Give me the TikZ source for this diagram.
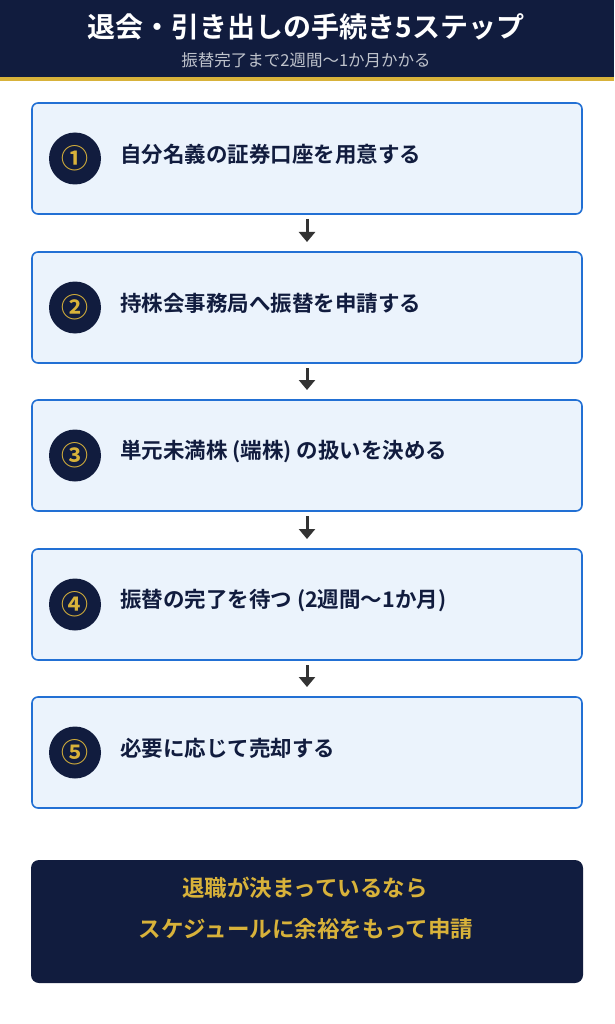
\documentclass[tikz,border=0pt]{standalone}
\usepackage{fontspec}
\setmainfont{Noto Sans CJK JP}
\newfontfamily\jpb{Noto Sans CJK JP Bold}
\usetikzlibrary{arrows.meta,calc}
\definecolor{navy}{HTML}{111C3E}
\definecolor{gold}{HTML}{D8B23A}
\definecolor{edgeblue}{HTML}{2270D4}
\definecolor{boxfill}{HTML}{EBF3FC}
\definecolor{subgray}{HTML}{BFC3CC}
\definecolor{arrowgray}{HTML}{333333}
\tikzset{
  stepbox/.style={draw=edgeblue, line width=1.6pt, fill=boxfill, rounded corners=6pt},
  numcircle/.style={circle, fill=navy, minimum size=52pt, inner sep=0pt, text=gold, font=\jpb\fontsize{27}{27}\selectfont},
  steptext/.style={anchor=west, text=navy, font=\jpb\fontsize{21.5}{22}\selectfont, inner sep=0pt},
  flowarrow/.style={draw=arrowgray, line width=3pt, -{Triangle[width=16pt,length=10pt]}},
  notetext/.style={text=gold, font=\jpb\fontsize{22.5}{23}\selectfont, inner sep=0pt},
}
\begin{document}
\begin{tikzpicture}[x=1pt,y=-1pt]
\useasboundingbox (0,0) rectangle (614,1024);
\fill[white] (0,0) rectangle (614,1024);
% header
\fill[navy] (0,0) rectangle (614,77);
\fill[gold] (0,77) rectangle (614,81);
\node[text=white, font=\jpb\fontsize{28}{28}\selectfont, inner sep=0pt] (title) at (306,27) {退会・引き出しの手続き5ステップ};
\node[text=subgray, font=\fontsize{16.5}{17}\selectfont, inner sep=0pt] (subtitle) at (306,60) {振替完了まで2週間〜1か月かかる};
% steps
\foreach \i/\y/\num/\txt in {
  1/103/①/自分名義の証券口座を用意する,
  2/252/②/持株会事務局へ振替を申請する,
  3/400/③/単元未満株 (端株) の扱いを決める,
  4/549/④/振替の完了を待つ (2週間〜1か月),
  5/697/⑤/必要に応じて売却する}{
  \draw[stepbox] (32,\y) rectangle (582,\y+111);
  \node[numcircle] (c\i) at (75,\y+55.5) {\num};
  \node[steptext] (t\i) at (120,\y+51.5) {\txt};
  \coordinate (top\i) at (307,\y);
  \coordinate (bot\i) at (307,\y+111);
}
\foreach \a/\b in {1/2,2/3,3/4,4/5}{
  \draw[flowarrow] ($(bot\a)+(0,5)$) -- ($(top\b)+(0,-10)$);
}
% bottom box
\fill[navy, rounded corners=8pt] (31,860) rectangle (583,983);
\node[notetext] (note1) at (305,888) {退職が決まっているなら};
\node[notetext] (note2) at (306,929) {スケジュールに余裕をもって申請};
\end{tikzpicture}
\end{document}
